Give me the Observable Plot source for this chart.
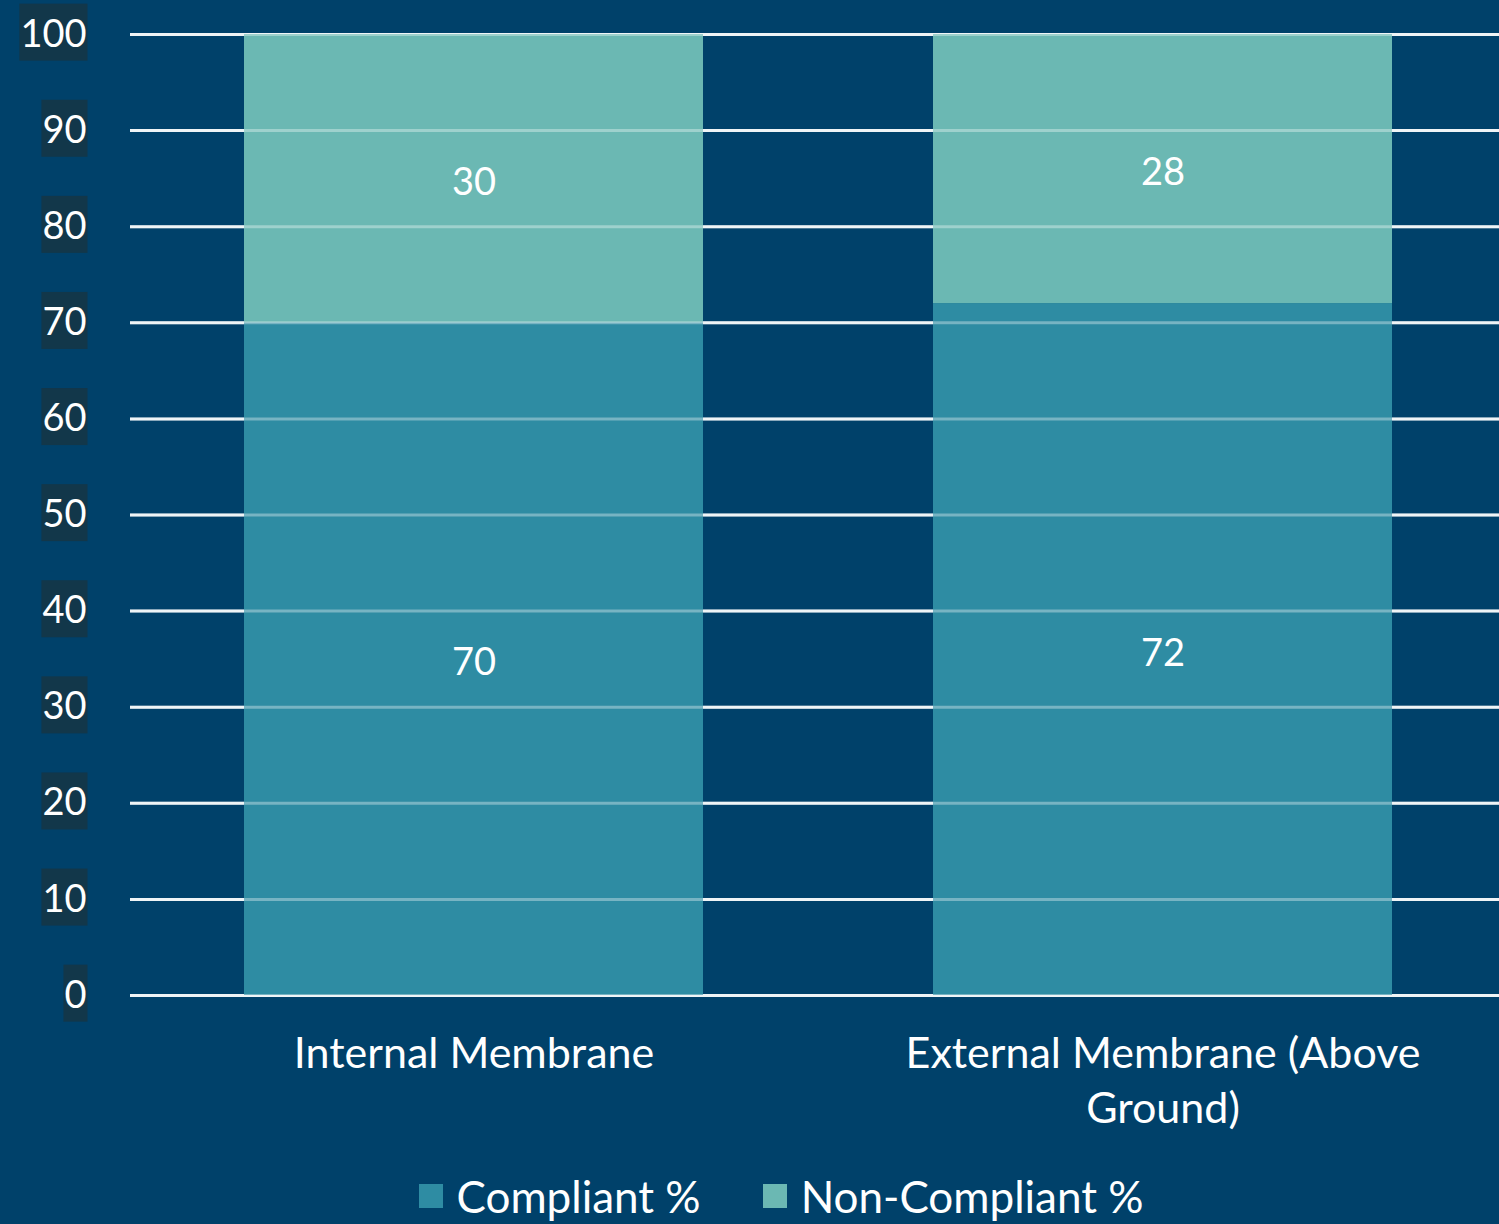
<!DOCTYPE html>
<html>
<head>
<meta charset="utf-8">
<script src="https://cdn.jsdelivr.net/npm/d3@7"></script>
<script src="https://cdn.jsdelivr.net/npm/@observablehq/plot@0.6"></script>
<style>
  html, body { margin: 0; padding: 0; background: #00416a; overflow: hidden; }
  #chart svg { display: block; }
  #legend { display: flex; justify-content: center; align-items: center; gap: 62px;
            font-family: Lato, "Open Sans", sans-serif; font-size: 44px; color: #ffffff;
            height: 52px; margin-top: -2px; padding-left: 63px; }
  #legend .item { display: flex; align-items: center; gap: 14px; }
  #legend .sw { width: 24px; height: 24px; display: inline-block; }
</style>
</head>
<body>
<div id="chart"></div>
<div id="legend"></div>
<script>
const categories = ["Internal Membrane", "External Membrane (Above Ground)"];
const categoryLabels = ["Internal Membrane", "External Membrane (Above\nGround)"];
const seriesNames = ["Compliant %", "Non-Compliant %"];
const compliant = [70, 72];
const nonCompliant = [30, 28];
const yTicks = [0, 10, 20, 30, 40, 50, 60, 70, 80, 90, 100];
const seriesColors = ["#2e8ca3", "#6bb8b3"];

const data = [];
categories.forEach((c, i) => {
  data.push({category: c, series: seriesNames[0], value: compliant[i]});
  data.push({category: c, series: seriesNames[1], value: nonCompliant[i]});
});

const chart = Plot.plot({
  width: 1499,
  height: 1172,
  marginLeft: 130,
  marginRight: 0,
  marginTop: 34,
  marginBottom: 177,
  style: {background: "#00416a", color: "#ffffff", fontFamily: "Lato, 'Open Sans', sans-serif", fontSize: "38px"},
  x: {domain: categories, range: [130, 1506], paddingInner: 0.3333, paddingOuter: 0.1638, label: null},
  y: {domain: [0, 100], ticks: yTicks, label: null},
  color: {domain: seriesNames, range: seriesColors},
  marks: [
    Plot.ruleY(yTicks, {stroke: "#e6eef2", strokeWidth: 3}),
    Plot.barY(data, Plot.stackY({x: "category", y: "value", fill: "series", order: seriesNames})),
    Plot.ruleY(yTicks, {stroke: "#ffffff", strokeWidth: 3, strokeOpacity: 0.35}),
    Plot.text(data, Plot.stackY({x: "category", y: "value", z: "series", order: seriesNames, text: d => String(d.value), fill: "#ffffff", fontSize: 38, dy: 4})),
    Plot.axisY({ticks: yTicks, tickSize: 0, tickPadding: 44, fontSize: 38, label: null, fill: "#ffffff"}),
    Plot.axisX({tickSize: 0, tickPadding: 33, fontSize: 43, lineHeight: 1.28, label: null, fill: "#ffffff",
      tickFormat: d => categoryLabels[categories.indexOf(d)]})
  ]
});

document.getElementById("chart").appendChild(chart);

// dark boxes behind y tick labels
const yAxis = chart.querySelector('g[aria-label="y-axis tick label"]');
if (yAxis) {
  yAxis.querySelectorAll("text").forEach(t => {
    const bb = t.getBBox();
    const r = document.createElementNS("http://www.w3.org/2000/svg", "rect");
    const cy = bb.y + bb.height / 2;
    r.setAttribute("x", bb.x - 1);
    r.setAttribute("y", cy - 28);
    r.setAttribute("width", bb.width + 2);
    r.setAttribute("height", 57);
    r.setAttribute("fill", "#12374a");
    const tr = t.getAttribute("transform");
    if (tr) r.setAttribute("transform", tr);
    t.parentNode.insertBefore(r, t);
  });
}

const legend = document.getElementById("legend");
seriesNames.forEach((s, i) => {
  const item = document.createElement("div");
  item.className = "item";
  const sw = document.createElement("span");
  sw.className = "sw";
  sw.style.background = seriesColors[i];
  const lab = document.createElement("span");
  lab.textContent = s;
  item.appendChild(sw);
  item.appendChild(lab);
  legend.appendChild(item);
});
</script>
</body>
</html>
